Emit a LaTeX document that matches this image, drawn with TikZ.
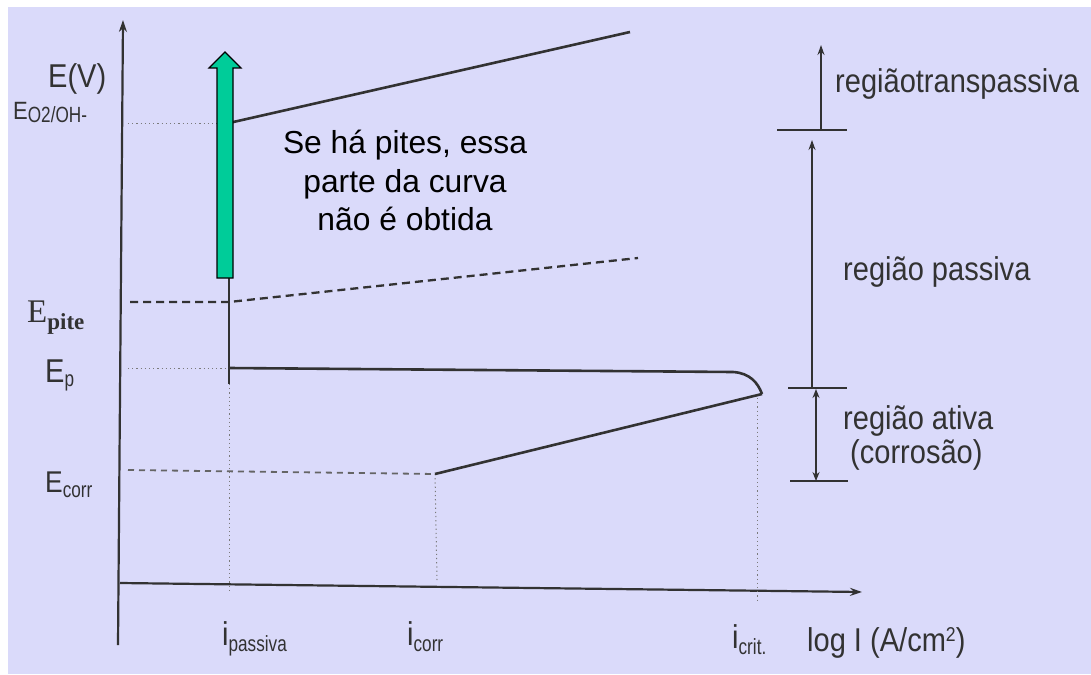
\documentclass[tikz,border=0pt]{standalone}
\usepackage{fontspec}
\setmainfont{Liberation Sans}
\newfontfamily\scanfont[FakeStretch=0.88]{Liberation Sans}
\newfontfamily\scansubfont[FakeStretch=0.78]{Liberation Sans}
\newfontfamily\scanserif{Liberation Serif}
\usetikzlibrary{arrows.meta}
\definecolor{bgcol}{RGB}{218,218,250}
\definecolor{ink}{RGB}{50,50,50}
\definecolor{arrowgreen}{RGB}{0,204,153}
\newcommand{\scansb}[2]{\raisebox{-#1pt}{\fontsize{22}{22}\selectfont\scansubfont #2}}
\tikzset{
  lab/.style={inner sep=0pt, text=ink, anchor=base west, font=\fontsize{33}{33}\selectfont\scanfont},
  note/.style={inner sep=0pt, text=black, anchor=base, font=\fontsize{31.8}{38}\selectfont},
  curve/.style={draw=ink, line width=2.6pt},
  dotline/.style={draw=ink!65, line width=1pt, dash pattern=on 1.2pt off 3pt},
  dashline/.style={draw=ink, line width=2.3pt, dash pattern=on 8pt off 5pt},
  lightdash/.style={draw=ink!75, line width=1.8pt, dash pattern=on 6pt off 5pt},
  axis/.style={draw=ink, line width=2.2pt, -{Stealth[length=12pt,width=8pt]}},
  regline/.style={draw=ink, line width=1.3pt},
  tickline/.style={draw=ink, line width=2.2pt},
}
\begin{document}
\begin{tikzpicture}[x=1pt,y=-1pt]
\useasboundingbox (0,0) rectangle (1091,674);
\fill[bgcol] (8,7) rectangle (1091,674);

% coordinates
\coordinate (yb) at (118,645);
\coordinate (yt) at (123,20);
\coordinate (xl) at (120,583);
\coordinate (xr) at (862,592);
\coordinate (o2l) at (128,123);
\coordinate (o2p) at (229,123);
\coordinate (trend) at (630,32);
\coordinate (pitl) at (130,302);
\coordinate (pitp) at (229,302);
\coordinate (pitend) at (638,258);
\coordinate (epl) at (128,368);
\coordinate (epp) at (229,368);
\coordinate (vbot) at (229,384);
\coordinate (epr) at (733,372);
\coordinate (tip) at (762,394);
\coordinate (ecl) at (128,470);
\coordinate (ecp) at (435,474);
\coordinate (pax) at (229,590);
\coordinate (cax) at (437,580);
\coordinate (crtop) at (757,398);
\coordinate (crax) at (757,602);

% axes
\draw[axis] (yb) -- (yt);
\draw[axis] (xl) -- (xr);

% guide lines
\draw[dotline] (o2l) -- (o2p);
\draw[dotline] (epl) -- (epp);
\draw[dotline] (vbot) -- (pax);
\draw[dotline] (ecp) -- (cax);
\draw[dotline] (crtop) -- (crax);
\draw[lightdash] (ecl) -- (ecp);
\draw[dashline] (pitl) -- (pitp) -- (pitend);

% curves
\draw[curve] (o2p) -- (trend);
\draw[curve] (o2p) -- (vbot);
\draw[curve] (epp) -- (epr) .. controls (750,373) and (758,383) .. (tip);
\draw[curve] (ecp) -- (tip);

% green arrow
\draw[fill=arrowgreen, draw=black, line width=1.2pt]
  (217,278) -- (233,278) -- (233,68) -- (241,68) -- (225,52) -- (209,68) -- (217,68) -- cycle;

% region markers
\coordinate (tpb) at (821,130);
\coordinate (tpt) at (821,45);
\coordinate (pb) at (812,388);
\coordinate (pt) at (812,140);
\coordinate (ab) at (816,481);
\coordinate (at) at (816,389);
\draw[tickline] (777,130) -- (847,130);
\draw[tickline] (788,388) -- (847,388);
\draw[tickline] (790,481) -- (848,481);
\draw[regline, -{Stealth[length=10pt,width=7pt]}] (tpb) -- (tpt);
\draw[regline, -{Stealth[length=10pt,width=7pt]}] (pb) -- (pt);
\draw[regline, {Stealth[length=9pt,width=7pt]}-{Stealth[length=9pt,width=7pt]}] (at) -- (ab);

% labels on left
\node[lab] (ev) at (48,88) {E(V)};
\node[lab, font=\fontsize{25}{25}\selectfont\scanfont] (eo2) at (13,120) {E\scansb{3}{O2/OH-}};
\node[lab, font=\fontsize{33}{33}\selectfont\scanserif] (epite) at (27,322) {E\raisebox{-7pt}{\fontsize{23}{23}\selectfont\bfseries pite}};
\node[lab] (ep) at (45,382) {E\scansb{4}{p}};
\node[lab, font=\fontsize{30}{30}\selectfont\scanfont] (ecorr) at (45,492) {E\scansb{5}{corr}};

% labels at bottom
\node[lab] (ipas) at (222,645) {i\scansb{6}{passiva}};
\node[lab] (icorr) at (407,645) {i\scansb{6}{corr}};
\node[lab] (icrit) at (732,648) {i\scansb{6}{crit.}};
\node[lab] (logi) at (807,651) {log I (A/cm\raisebox{10pt}{\fontsize{20}{20}\selectfont 2})};

% region labels
\node[lab] (rtp) at (835,93) {regiãotranspassiva};
\node[lab] (rp) at (843,280) {região passiva};
\node[lab] (ra) at (843,429) {região ativa};
\node[lab] (rc) at (850,463) {(corrosão)};

% note
\node[note] (n1) at (405,153) {Se há pites, essa};
\node[note] (n2) at (405,192) {parte da curva};
\node[note] (n3) at (405,230) {não é obtida};
\end{tikzpicture}
\end{document}
